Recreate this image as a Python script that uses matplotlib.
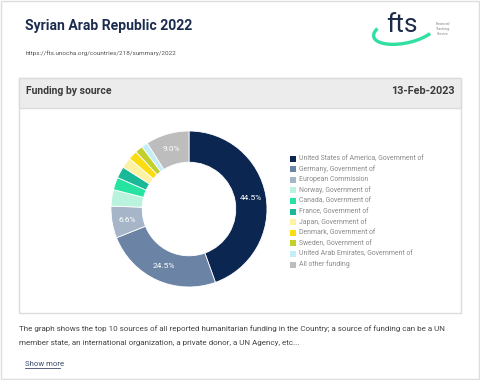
import numpy as np
import matplotlib.pyplot as plt
from matplotlib.patches import Rectangle, Arc

plt.rcParams['font.family'] = ['Roboto', 'DejaVu Sans']

# funding shares (%) read from the donut, clockwise from 12 o'clock
sources = ['United States of America, Government of', 'Germany, Government of',
           'European Commission', 'Norway, Government of', 'Canada, Government of',
           'France, Government of', 'Japan, Government of', 'Denmark, Government of',
           'Sweden, Government of', 'United Arab Emirates, Government of',
           'All other funding']
shares = [44.5, 24.5, 6.6, 3.4, 2.6, 2.4, 2.2, 1.9, 1.6, 1.3, 9.0]
shown_labels = ['44.5%', '24.5%', '6.6%', '', '', '', '', '', '', '', '9.0%']
colors = ['#0b2751', '#6b84a5', '#a7b5c9', '#b9f3dd', '#27e3a2', '#19b898',
          '#fdf1a3', '#fbdc10', '#c3cf2a', '#c3eef8', '#bdbdbd']

W, H = 480, 380
fig = plt.figure(figsize=(4.8, 3.8), dpi=100)
bg = fig.add_axes([0, 0, 1, 1])
bg.set_xlim(0, W)
bg.set_ylim(H, 0)
bg.axis('off')

# page border
bg.add_patch(Rectangle((1, 1), W - 2, H - 2, fill=False, ec='#dddddd', lw=1))

# title + url
bg.text(25, 26, 'Syrian Arab Republic 2022', fontsize=10.1, fontweight='bold',
        color='#1b2c4f', va='center')
bg.text(25, 53, 'https://fts.unocha.org/countries/218/summary/2022', fontsize=4.6,
        color='#555555', va='center')

# logo
bg.add_patch(Arc((405, 30), 64, 26, angle=-12, theta1=20, theta2=195,
                 color='#2fe0a0', lw=2.4))
bg.text(402, 25, 'fts', fontsize=19, color='#1d2a4a', ha='center', va='center')
bg.text(443, 29, 'Financial\nTracking\nService', fontsize=2.6, color='#888888',
        ha='center', va='center', linespacing=1.3)

# card
bg.add_patch(Rectangle((19, 78), 442, 235, fc='white', ec='#dcdcdc', lw=1))
bg.add_patch(Rectangle((19, 78), 442, 30, fc='#ececec', ec='#dcdcdc', lw=1))
bg.text(26, 91, 'Funding by source', fontsize=7.5, fontweight='bold', color='#3a3a3a',
        va='center')
bg.text(455, 91, '13-Feb-2023', fontsize=7.8, fontweight='bold', color='#3a3a3a',
        va='center', ha='right')

# legend
for i, (name, c) in enumerate(zip(sources, colors)):
    y = 158.5 + i * 10.6
    bg.add_patch(Rectangle((290, y - 3), 6, 6, fc=c, ec='none'))
    bg.text(299, y, name, fontsize=4.95, color='#8a8a8a', va='center')

# description
bg.text(19, 329, 'The graph shows the top 10 sources of all reported humanitarian funding '
        'in the Country; a source of funding can be a UN', fontsize=5.75, color='#444444',
        va='center')
bg.text(19, 343, 'member state, an international organization, a private donor, '
        'a UN Agency, etc...', fontsize=5.75, color='#444444', va='center')
bg.text(25, 364, 'Show more', fontsize=5.6, color='#3b4a6b', va='center')
bg.plot([25, 60], [367.5, 367.5], color='#3b4a6b', lw=0.6)

# donut
cx, cy, r = 189, 209, 78
ax = fig.add_axes([(cx - r) / W, (H - cy - r) / H, 2 * r / W, 2 * r / H])
ax.pie(shares, colors=colors, startangle=90, counterclock=False, radius=1,
       wedgeprops=dict(width=0.4, edgecolor='white', linewidth=0.6))
ang = 90.0
for s, lab in zip(shares, shown_labels):
    mid = np.deg2rad(ang - s * 3.6 / 2)
    ang -= s * 3.6
    if lab:
        ax.text(0.8 * np.cos(mid), 0.8 * np.sin(mid), lab, fontsize=6,
                color='white', ha='center', va='center')
ax.set_xlim(-1, 1)
ax.set_ylim(-1, 1)
ax.set_aspect('equal')

fig.savefig('out.png', dpi=100)
